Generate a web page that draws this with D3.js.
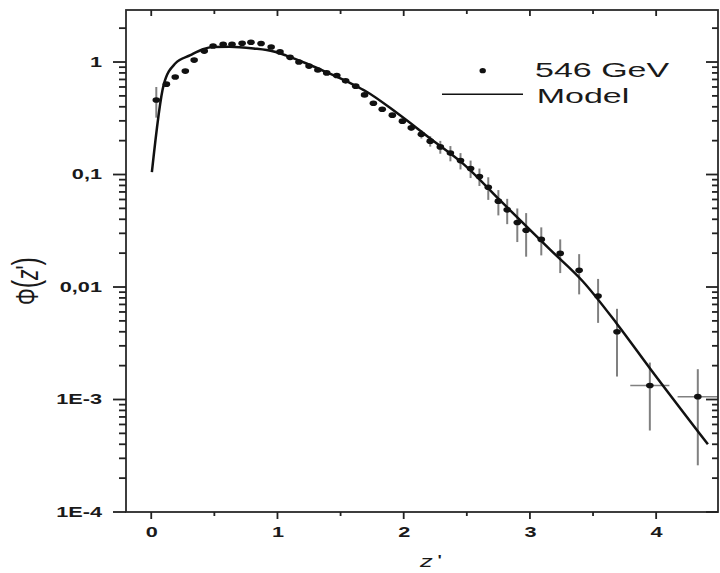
<!DOCTYPE html>
<html>
<head>
<meta charset="utf-8">
<script src="https://cdn.jsdelivr.net/npm/d3@7"></script>
<style>
  body { margin: 0; background: #fff; }
  text { font-family: "Liberation Sans", Arial, sans-serif; fill: #1a1a1a; }
</style>
</head>
<body>
<div id="chart"></div>
<script>

//********************* DATA ************************************

// measured points, 546 GeV
var pointZ   = [0.04, 0.12, 0.19, 0.27, 0.34, 0.42, 0.49, 0.57, 0.64, 0.72, 0.79, 0.87, 0.95, 1.02,
                1.10, 1.17, 1.25, 1.32, 1.39, 1.47, 1.54, 1.62, 1.69, 1.76, 1.83, 1.91, 1.99, 2.06,
                2.14, 2.21, 2.29, 2.37, 2.45, 2.53, 2.60, 2.67, 2.75, 2.82, 2.90, 2.97, 3.09, 3.24,
                3.39, 3.54, 3.69, 3.95, 4.33];
var pointPhi = [0.46, 0.636, 0.735, 0.83, 1.04, 1.25, 1.39, 1.44, 1.44, 1.47, 1.50, 1.46, 1.36, 1.23,
                1.10, 1.00, 0.92, 0.85, 0.80, 0.76, 0.68, 0.61, 0.51, 0.43, 0.38, 0.337, 0.298, 0.26,
                0.228, 0.198, 0.176, 0.155, 0.133, 0.113, 0.096, 0.077, 0.058, 0.0485, 0.0375, 0.032, 0.0265, 0.0199,
                0.0141, 0.0083, 0.0040, 0.00133, 0.00106];
var pointErr = [0.14, 0, 0, 0, 0, 0, 0, 0, 0, 0, 0, 0, 0, 0,
                0, 0, 0, 0, 0, 0, 0, 0, 0, 0, 0, 0.012, 0.013, 0.015,
                0.019, 0.021, 0.023, 0.024, 0.022, 0.020, 0.017, 0.0175, 0.0147, 0.0123, 0.0124, 0.0134, 0.0074, 0.0066,
                0.0055, 0.0035, 0.0024, 0.0008, 0.0008];
var pointZErr = [0, 0, 0, 0, 0, 0, 0, 0, 0, 0, 0, 0, 0, 0,
                 0, 0, 0, 0, 0, 0, 0, 0, 0, 0, 0, 0, 0, 0,
                 0, 0, 0, 0, 0, 0, 0, 0, 0, 0, 0, 0, 0, 0,
                 0, 0, 0, 0.155, 0.16];

// model curve
var modelZ   = [0.005, 0.098, 0.19, 0.31, 0.41, 0.49, 0.62, 0.81, 0.97, 1.07, 1.23, 1.39, 1.60, 1.70,
                1.95, 2.21, 2.47, 2.77, 3.16, 3.42, 3.69, 3.95, 4.41];
var modelPhi = [0.105, 0.624, 0.97, 1.15, 1.30, 1.36, 1.37, 1.32, 1.24, 1.14, 0.97, 0.81, 0.63, 0.55,
                0.35, 0.209, 0.125, 0.058, 0.0215, 0.0112, 0.0047, 0.0019, 0.0004];

// axes
var xTicks = [0, 1, 2, 3, 4];
var xMinorTicks = [0.5, 1.5, 2.5, 3.5];
var yTicks = [1e-4, 1e-3, 1e-2, 1e-1, 1];
var yTickLabels = ["1E-4", "1E-3", "0,01", "0,1", "1"];
var yMinorTicks = [];
yTicks.forEach(function(d) {
  for (var k = 2; k <= 9; k++) if (d * k < 2.9) yMinorTicks.push(d * k);
});

var legendPoints = "546 GeV";
var legendModel = "Model";

//********************* DIMENSIONS ************************************

var margin = {top: 10, right: 2, bottom: 61, left: 126},
    width = 720 - margin.left - margin.right,
    height = 573 - margin.top - margin.bottom;

var x = d3.scaleLinear().domain([-0.2, 4.49]).range([0, width]);
var y = d3.scaleLog().domain([1e-4, 2.9]).range([height, 0]);

var root = d3.select("#chart").append("svg")
    .attr("width", 720)
    .attr("height", 573);

var svg = root.append("g")
    .attr("transform", "translate(" + margin.left + "," + margin.top + ")");

svg.append("clipPath").attr("id", "clip")
  .append("rect").attr("width", width).attr("height", height);

//********************* MARKS ************************************

var points = pointZ.map(function(z, i) {
  return {z: z, phi: pointPhi[i], err: pointErr[i], zerr: pointZErr[i]};
});
var model = modelZ.map(function(z, i) { return {z: z, phi: modelPhi[i]}; });

var plot = svg.append("g").attr("clip-path", "url(#clip)");

// error bars
plot.selectAll(".ebar")
    .data(points.filter(function(d) { return d.err > 0; }))
  .enter().append("line")
    .attr("class", "ebar")
    .attr("x1", function(d) { return x(d.z); })
    .attr("x2", function(d) { return x(d.z); })
    .attr("y1", function(d) { return y(d.phi + d.err); })
    .attr("y2", function(d) { return y(Math.max(d.phi - d.err, 1e-5)); })
    .attr("stroke", "#808080")
    .attr("stroke-width", 2);

plot.selectAll(".zbar")
    .data(points.filter(function(d) { return d.zerr > 0; }))
  .enter().append("line")
    .attr("class", "zbar")
    .attr("x1", function(d) { return x(d.z - d.zerr); })
    .attr("x2", function(d) { return x(d.z + d.zerr); })
    .attr("y1", function(d) { return y(d.phi); })
    .attr("y2", function(d) { return y(d.phi); })
    .attr("stroke", "#808080")
    .attr("stroke-width", 1.5);

// model line
var valueline = d3.line()
    .x(function(d) { return x(d.z); })
    .y(function(d) { return y(d.phi); })
    .curve(d3.curveMonotoneX);

plot.append("path")
    .datum(model)
    .attr("d", valueline)
    .attr("fill", "none")
    .attr("stroke", "#111")
    .attr("stroke-width", 2.5);

// points
plot.selectAll(".dot")
    .data(points)
  .enter().append("ellipse")
    .attr("class", "dot")
    .attr("cx", function(d) { return x(d.z); })
    .attr("cy", function(d) { return y(d.phi); })
    .attr("rx", 3.8)
    .attr("ry", 2.8)
    .attr("fill", "#111");

//********************* AXES ************************************

// tick labels from d3 axes
svg.append("g")
    .attr("transform", "translate(0," + height + ")")
    .call(d3.axisBottom(x).tickValues(xTicks).tickSize(0).tickFormat(d3.format("d")))
    .call(function(g) {
      g.select(".domain").remove();
      g.selectAll("line").remove();
      g.selectAll("text")
        .attr("y", 0).attr("dy", 0)
        .attr("transform", "translate(0,24.5) scale(1.55,1)")
        .style("font-size", "14px").style("font-weight", "bold");
    });

svg.append("g")
    .call(d3.axisLeft(y).tickValues(yTicks).tickSize(0)
      .tickFormat(function(d, i) { return yTickLabels[i]; }))
    .call(function(g) {
      g.select(".domain").remove();
      g.selectAll("line").remove();
      g.selectAll("text")
        .attr("x", 0)
        .attr("transform", "translate(-24,0) scale(1.55,1)")
        .style("font-size", "14px").style("font-weight", "bold");
    });

// frame
svg.append("rect")
    .attr("width", width)
    .attr("height", height)
    .attr("fill", "none")
    .attr("stroke", "#2a2a2a")
    .attr("stroke-width", 1.8);

// tick marks as thin filled rects: left/bottom outward, top/right inward
var ticks = svg.append("g").attr("fill", "#222");

function xTickMarks(values, y0, len) {
  ticks.append("g").selectAll("rect")
      .data(values)
    .enter().append("rect")
      .attr("x", function(d) { return x(d) - 0.9; })
      .attr("y", len > 0 ? y0 : y0 + len)
      .attr("width", 1.8)
      .attr("height", Math.abs(len));
}

function yTickMarks(values, x0, len) {
  ticks.append("g").selectAll("rect")
      .data(values)
    .enter().append("rect")
      .attr("y", function(d) { return y(d) - 0.9; })
      .attr("x", len > 0 ? x0 : x0 + len)
      .attr("height", 1.8)
      .attr("width", Math.abs(len));
}

xTickMarks(xTicks, height, 7);
xTickMarks(xMinorTicks, height, 4);
xTickMarks(xTicks, 0, 6);
xTickMarks(xMinorTicks, 0, 4);
yTickMarks(yTicks, 0, -13);
yTickMarks(yMinorTicks, 0, -7);
yTickMarks(yTicks, width, -12);
yTickMarks(yMinorTicks, width, -6);

//********************* LABELS & LEGEND ************************************

root.append("text")
    .attr("transform", "translate(38,281) rotate(-90) scale(1,1.5)")
    .attr("text-anchor", "middle")
    .style("font-size", "21px")
    .call(function(t) {
      t.append("tspan").text("\u03A6");
      t.append("tspan").style("font-size", "25px").text("(");
      t.append("tspan").style("font-style", "italic").text("z");
      t.append("tspan").text("'");
      t.append("tspan").style("font-size", "25px").text(")");
    });

root.append("text")
    .attr("transform", "translate(431,567) scale(1.5,1)")
    .attr("text-anchor", "middle")
    .style("font-size", "17px")
    .call(function(t) {
      t.append("tspan").style("font-style", "italic").text("z");
      t.append("tspan").attr("dx", 3).text("'");
    });

var legend = root.append("g");
legend.append("ellipse")
    .attr("cx", 482.7).attr("cy", 70.7)
    .attr("rx", 3.2).attr("ry", 2.6)
    .attr("fill", "#111");
legend.append("text")
    .attr("transform", "translate(535,77) scale(1.7,1)")
    .style("font-size", "20px")
    .text(legendPoints);
legend.append("line")
    .attr("x1", 442).attr("x2", 523)
    .attr("y1", 94.3).attr("y2", 94.3)
    .attr("stroke", "#111")
    .attr("stroke-width", 1.4);
legend.append("text")
    .attr("transform", "translate(536.7,103.3) scale(1.7,1)")
    .style("font-size", "20px")
    .text(legendModel);

</script>
</body>
</html>
